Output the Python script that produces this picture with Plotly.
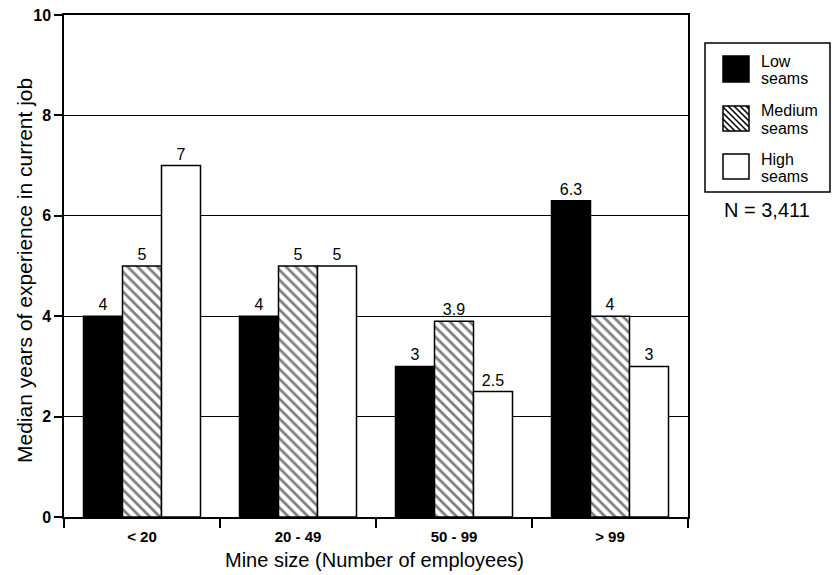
import plotly.graph_objects as go

categories = ["< 20", "20 - 49", "50 - 99", "> 99"]
low_seams = [4, 4, 3, 6.3]
medium_seams = [5, 5, 3.9, 4]
high_seams = [7, 5, 2.5, 3]
series_names = ["Low<br>seams", "Medium<br>seams", "High<br>seams"]
y_ticks = [0, 2, 4, 6, 8, 10]

FONT = "Liberation Sans, Arial, Helvetica, sans-serif"
W, H = 832, 575
L, R, T, B = 64, 144, 15, 58
PW, PH = W - L - R, H - T - B


def px(x):
    return (x - L) / PW


def py(y):
    return (H - B - y) / PH


def fmt(v):
    return ("%g" % v)


fig = go.Figure()
styles = [
    dict(color="black"),
    dict(color="white", pattern=dict(shape="\\", fgcolor="black", bgcolor="white", size=7, solidity=0.4)),
    dict(color="white"),
]
for name, vals, st in zip(series_names, [low_seams, medium_seams, high_seams], styles):
    fig.add_trace(go.Bar(
        x=categories, y=vals, name=name,
        text=[fmt(v) for v in vals], textposition="outside",
        textfont=dict(family=FONT, size=16, color="black"),
        cliponaxis=False,
        marker=dict(line=dict(color="black", width=1.5), **st),
        showlegend=False,
    ))

fig.update_layout(
    width=W, height=H,
    margin=dict(l=L, r=R, t=T, b=B),
    paper_bgcolor="white", plot_bgcolor="white",
    barmode="group", bargap=0.25, bargroupgap=0,
    font=dict(family=FONT, color="black"),
    showlegend=False,
)
fig.update_xaxes(
    type="category", tickson="boundaries", ticks="outside", ticklen=9, tickwidth=2,
    tickcolor="black", showline=True, linecolor="black", linewidth=1.5, mirror=True,
    showgrid=False, tickfont=dict(family=FONT, size=15, color="black", weight="bold"),
    ticklabelstandoff=5, automargin=False,
)
fig.update_yaxes(
    range=[0, 10], tickvals=y_ticks, ticks="outside", ticklen=8, tickwidth=1.5,
    tickcolor="black", showline=True, linecolor="black", linewidth=1.5, mirror=True,
    showgrid=True, gridcolor="black", gridwidth=1, zeroline=False,
    tickfont=dict(family=FONT, size=16, color="black", weight="bold"),
    automargin=False,
)

# axis titles
fig.add_annotation(text="Median years of experience in current job", xref="paper", yref="paper",
                   x=px(24), y=py(271), textangle=-90, showarrow=False,
                   font=dict(family=FONT, size=21, color="black"), xanchor="center", yanchor="middle")
fig.add_annotation(text="Mine size (Number of employees)", xref="paper", yref="paper",
                   x=px(374), y=py(560), showarrow=False,
                   font=dict(family=FONT, size=20, color="black"), xanchor="center", yanchor="middle")

# custom legend
shapes = []
shapes.append(dict(type="rect", xref="paper", yref="paper", x0=px(705), x1=px(830), y0=py(43), y1=py(192),
                   line=dict(color="black", width=1.5), fillcolor="white", layer="above"))
sw_x0, sw_x1 = 723, 749
sw_rows = [(56, 82), (106, 131), (154, 179)]
shapes.append(dict(type="rect", xref="paper", yref="paper", x0=px(sw_x0), x1=px(sw_x1),
                   y0=py(sw_rows[0][0]), y1=py(sw_rows[0][1]), line=dict(color="black", width=1.5),
                   fillcolor="black", layer="above"))
y0, y1 = sw_rows[1]
path = ""
step = 6
c = (y0 - sw_x1) + step / 2
while c < (y1 - sw_x0):
    xa = max(sw_x0, y0 - c)
    xb = min(sw_x1, y1 - c)
    if xb > xa:
        path += "M%.5f,%.5f L%.5f,%.5f " % (px(xa), py(xa + c), px(xb), py(xb + c))
    c += step
shapes.append(dict(type="path", xref="paper", yref="paper", path=path,
                   line=dict(color="black", width=1.6), layer="above"))
shapes.append(dict(type="rect", xref="paper", yref="paper", x0=px(sw_x0), x1=px(sw_x1),
                   y0=py(y0), y1=py(y1), line=dict(color="black", width=1.5), layer="above"))
shapes.append(dict(type="rect", xref="paper", yref="paper", x0=px(sw_x0), x1=px(sw_x1),
                   y0=py(sw_rows[2][0]), y1=py(sw_rows[2][1]), line=dict(color="black", width=1.5),
                   fillcolor="white", layer="above"))
fig.update_layout(shapes=shapes)

text_centers = [(61, 78), (110, 128), (160, 176)]
for name, (ya, yb) in zip(series_names, text_centers):
    first, second = name.split("<br>")
    for t, yy in ((first, ya), (second, yb)):
        fig.add_annotation(text=t, xref="paper", yref="paper", x=px(759), y=py(yy),
                           xanchor="left", yanchor="middle", showarrow=False,
                           font=dict(family=FONT, size=16, color="black"))

fig.add_annotation(text="N = 3,411", xref="paper", yref="paper", x=px(722), y=py(210),
                   xanchor="left", yanchor="middle", showarrow=False,
                   font=dict(family=FONT, size=20, color="black"))

fig.write_html("out.html", config={"displayModeBar": False},
               post_script="document.body.style.margin='0';document.body.style.overflow='hidden';")
